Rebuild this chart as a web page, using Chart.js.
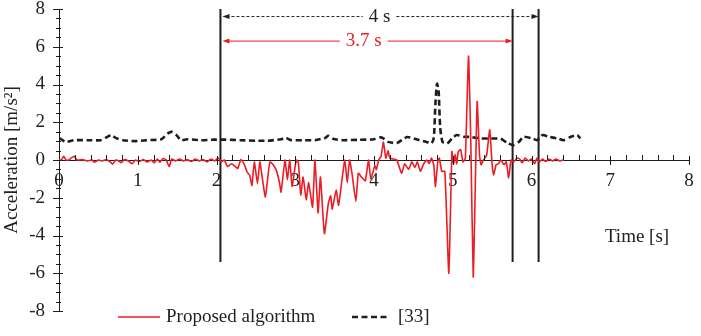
<!DOCTYPE html>
<html>
<head>
<meta charset="utf-8">
<script src="https://cdn.jsdelivr.net/npm/chart.js@4/dist/chart.umd.min.js"></script>
<style>
  html, body { margin: 0; padding: 0; background: #fff; }
</style>
</head>
<body>
<canvas id="myChart" width="701" height="336"></canvas>
<script>
// ---- data ----
const redTime = [
  0.00,0.03,0.06,0.09,0.13,0.19,0.23,0.30,0.36,0.42,
  0.45,0.50,0.55,0.60,0.65,0.68,0.72,0.76,0.79,0.83,
  0.88,0.93,0.97,1.02,1.07,1.12,1.17,1.21,1.25,1.28,
  1.32,1.36,1.40,1.43,1.48,1.53,1.58,1.63,1.68,1.73,
  1.78,1.83,1.88,1.93,1.98,2.02,2.06,2.10,2.14,2.19,
  2.24,2.27,2.31,2.35,2.39,2.42,2.45,2.48,2.52,2.55,
  2.58,2.62,2.66,2.68,2.72,2.76,2.80,2.82,2.87,2.90,
  2.93,2.96,3.00,3.02,3.04,3.07,3.10,3.14,3.17,3.22,
  3.25,3.29,3.32,3.37,3.42,3.45,3.47,3.52,3.55,3.59,
  3.63,3.66,3.69,3.72,3.77,3.80,3.84,3.89,3.93,3.96,
  4.01,4.03,4.06,4.09,4.12,4.15,4.18,4.20,4.25,4.29,
  4.35,4.39,4.44,4.48,4.52,4.55,4.59,4.63,4.67,4.70,
  4.73,4.76,4.78,4.81,4.83,4.86,4.90,4.95,4.99,5.01,
  5.03,5.05,5.07,5.10,5.13,5.16,5.20,5.23,5.26,5.29,
  5.31,5.34,5.36,5.39,5.43,5.47,5.50,5.52,5.55,5.58,
  5.61,5.65,5.68,5.71,5.74,5.77,5.82,5.85,5.88,5.92,
  5.96,6.00,6.04,6.07,6.10,6.14,6.18,6.22,6.27,6.31,
  6.36,6.41
];
const redAccel = [
  0.02,0.00,0.20,0.00,0.02,0.20,0.00,0.02,-0.05,0.00,
  -0.12,0.00,-0.05,0.02,-0.10,-0.22,0.00,-0.05,-0.15,0.02,
  -0.05,-0.20,0.00,-0.08,0.02,-0.10,0.00,-0.15,0.05,-0.12,
  0.08,0.00,-0.35,0.05,-0.05,0.05,-0.05,0.02,-0.08,0.05,
  -0.05,0.02,-0.10,0.05,-0.05,0.12,-0.10,0.00,-0.35,-0.20,
  -0.35,-0.45,0.02,-0.20,-0.65,-0.80,-1.35,-0.10,-1.25,-0.10,
  -0.90,-1.95,-0.60,-0.10,-0.25,-0.55,-1.20,-1.70,0.00,-1.05,
  0.00,-1.40,-0.30,0.00,-0.15,-1.85,-0.90,-2.10,-1.20,-2.50,
  0.00,-2.80,-0.90,-3.90,-2.30,-1.90,-2.60,-1.60,-2.40,-1.15,
  0.00,-1.20,0.00,-0.70,-2.20,-0.70,-0.90,-1.10,0.00,-1.00,
  -0.30,-0.50,0.00,0.20,0.95,0.10,0.50,0.10,0.05,0.00,
  -0.70,-0.20,-0.50,-0.10,-0.40,-0.10,-0.60,-0.20,0.00,-0.20,
  0.10,-0.30,-1.40,-0.10,0.10,-0.60,-0.60,-6.00,0.45,-0.20,
  0.30,-0.20,0.45,0.55,-0.10,0.10,5.50,0.80,-6.20,-0.60,
  3.10,0.25,-0.25,0.00,0.25,1.60,-0.25,-0.80,-0.25,-0.20,
  0.00,-0.25,-0.10,-0.95,0.00,-0.10,0.10,0.05,-0.15,0.10,
  -0.05,0.05,-0.20,0.10,-0.10,0.05,-0.08,0.05,-0.05,0.05,
  -0.05,0.02
];
const refTime = [
  0.00,0.02,0.085,0.19,0.36,0.53,0.59,0.66,0.72,0.81,
  0.96,1.12,1.30,1.38,1.43,1.49,1.55,1.63,1.80,1.97,
  2.10,2.30,2.50,2.65,2.82,2.88,2.95,3.10,3.25,3.38,
  3.42,3.48,3.60,3.80,4.00,4.08,4.12,4.18,4.29,4.42,
  4.55,4.67,4.73,4.76,4.78,4.80,4.82,4.84,4.87,4.93,
  4.99,5.05,5.14,5.22,5.35,5.48,5.61,5.69,5.77,5.84,
  5.90,6.01,6.07,6.14,6.22,6.33,6.41,6.50,6.58,6.62
];
const refAccel = [
  1.15,1.12,0.96,1.05,1.05,1.05,1.17,1.32,1.17,1.05,
  1.00,1.05,1.10,1.40,1.49,1.32,1.05,1.10,1.05,1.08,
  1.08,1.05,1.02,1.02,1.10,1.17,1.05,1.05,1.05,1.17,
  1.28,1.12,1.05,1.07,1.10,1.20,1.14,0.96,0.90,1.22,
  1.08,0.95,0.88,1.20,3.00,4.04,3.70,1.75,0.96,0.88,
  1.14,1.32,1.23,1.22,1.14,1.14,1.12,0.91,0.79,0.96,
  1.23,1.14,1.05,1.32,1.23,1.14,1.05,1.23,1.32,1.14
];
const markerTimes = [2.05, 5.76, 6.09];
const markerTop = 8, markerBottom = -5.4;
const xTickValues = [0, 1, 2, 3, 4, 5, 6, 7, 8];
const yTickValues = [-8, -6, -4, -2, 0, 2, 4, 6, 8];

const INK = '#1e1e1e';
const RED = '#ec1c24';
const FONT = "'Liberation Serif', 'Times New Roman', serif";

Chart.defaults.font.family = FONT;
Chart.defaults.font.size = 19;
Chart.defaults.color = '#222';

function toPoints(xs, ys) {
  return xs.map((x, i) => ({ x: x, y: ys[i] }));
}

// small helper for the arrow heads of the span annotations
function arrowHead(ctx, x, y, dir) {
  ctx.beginPath();
  ctx.moveTo(x, y);
  ctx.lineTo(x + dir * 7, y - 2.5);
  ctx.lineTo(x + dir * 7, y + 2.5);
  ctx.closePath();
  ctx.fill();
}

function spanArrow(ctx, x1, x2, y, label, cx, color, dash) {
  ctx.font = '19px ' + FONT;
  const half = ctx.measureText(label).width / 2 + 6;
  ctx.strokeStyle = color;
  ctx.fillStyle = color;
  ctx.lineWidth = 1;
  ctx.setLineDash(dash);
  ctx.beginPath();
  ctx.moveTo(x1 + 4, y); ctx.lineTo(cx - half, y);
  ctx.moveTo(cx + half, y); ctx.lineTo(x2 - 4, y);
  ctx.stroke();
  ctx.setLineDash([]);
  arrowHead(ctx, x1, y, 1);
  arrowHead(ctx, x2, y, -1);
  ctx.textAlign = 'center';
  ctx.textBaseline = 'middle';
  ctx.fillText(label, cx, y);
}

function noPad(s) {
  s.paddingTop = 0; s.paddingBottom = 0;
  s.paddingLeft = 0; s.paddingRight = 0;
}

const extrasPlugin = {
  id: 'extras',
  afterDraw(chart) {
    const { ctx, scales: { x, y } } = chart;
    const x0 = x.getPixelForValue(0), y0 = y.getPixelForValue(0);
    ctx.save();

    // axis tick marks (major + minor)
    ctx.strokeStyle = INK;
    ctx.lineWidth = 1;
    ctx.beginPath();
    for (let k = 0; k <= 32; k++) {
      const py = Math.round(y.getPixelForValue(-8 + k * 0.5)) + 0.5;
      const major = k % 4 === 0;
      ctx.moveTo(x0 - (major ? 6 : 3), py);
      ctx.lineTo(x0 + (major ? 4 : 2), py);
    }
    for (let k = 1; k <= 40; k++) {
      const px = Math.round(x.getPixelForValue(k * 0.2)) + 0.5;
      const major = k % 5 === 0;
      ctx.moveTo(px, y0 - (major ? 4 : 5));
      ctx.lineTo(px, y0 + (major ? 5 : 0));
    }
    ctx.stroke();

    // duration annotations
    const m = markerTimes.map(t => x.getPixelForValue(t));
    spanArrow(ctx, m[0] + 2, m[2], y.getPixelForValue(7.6), '4 s',
      x.getPixelForValue(4.07), '#222', [3, 2]);
    spanArrow(ctx, m[0] + 2, m[1], y.getPixelForValue(6.3), '3.7 s',
      x.getPixelForValue(3.87), RED, []);

    // x axis title
    ctx.fillStyle = '#222';
    ctx.font = '19px ' + FONT;
    ctx.textAlign = 'center';
    ctx.textBaseline = 'middle';
    ctx.fillText('Time [s]', x.getPixelForValue(7.34), y.getPixelForValue(-4.1));

    // legend
    const ly = 317;
    ctx.lineWidth = 1.6;
    ctx.strokeStyle = RED;
    ctx.beginPath(); ctx.moveTo(118, ly); ctx.lineTo(160, ly); ctx.stroke();
    ctx.lineWidth = 2.6;
    ctx.strokeStyle = INK;
    ctx.setLineDash([6, 3.5]);
    ctx.beginPath(); ctx.moveTo(352, ly); ctx.lineTo(388, ly); ctx.stroke();
    ctx.setLineDash([]);
    ctx.textAlign = 'left';
    ctx.fillText('Proposed algorithm', 166, ly);
    ctx.fillText('[33]', 398, ly);
    ctx.restore();
  }
};

const datasets = [
  {
    label: 'Proposed algorithm',
    data: toPoints(redTime, redAccel),
    borderColor: RED,
    borderWidth: 1.6,
    pointRadius: 0,
    tension: 0.15
  },
  {
    label: '[33]',
    data: toPoints(refTime, refAccel),
    borderColor: INK,
    borderWidth: 2.6,
    borderDash: [6, 3.5],
    pointRadius: 0,
    tension: 0.2
  }
];
markerTimes.forEach(t => {
  datasets.push({
    label: 'marker',
    data: [{ x: t, y: markerTop }, { x: t, y: markerBottom }],
    borderColor: INK,
    borderWidth: 2,
    pointRadius: 0
  });
});

const ctx = document.getElementById('myChart');
new Chart(ctx, {
  type: 'line',
  data: { datasets: datasets },
  options: {
    responsive: false,
    animation: false,
    layout: { padding: { top: 9, right: 12, bottom: 25, left: 0 } },
    plugins: { legend: { display: false }, tooltip: { enabled: false } },
    scales: {
      x: {
        type: 'linear',
        min: 0, max: 8,
        position: { y: 0 },
        afterBuildTicks: s => { s.ticks = xTickValues.map(v => ({ value: v })); },
        afterFit: noPad,
        ticks: { padding: 12, font: { size: 19, lineHeight: 0.98 }, maxRotation: 0 },
        grid: { drawOnChartArea: false, drawTicks: false },
        border: { color: INK, width: 1 }
      },
      y: {
        min: -8, max: 8,
        afterBuildTicks: s => { s.ticks = yTickValues.map(v => ({ value: v })); },
        afterFit: s => { s.width = 59; noPad(s); },
        ticks: { padding: 14, font: { size: 19, lineHeight: 0.98 } },
        grid: { drawOnChartArea: false, drawTicks: false },
        border: { color: INK, width: 1 },
        title: {
          display: true,
          text: 'Acceleration [m/s²]',
          font: { size: 19 },
          padding: { top: 1, bottom: 0 }
        }
      }
    }
  },
  plugins: [extrasPlugin]
});
</script>
</body>
</html>
